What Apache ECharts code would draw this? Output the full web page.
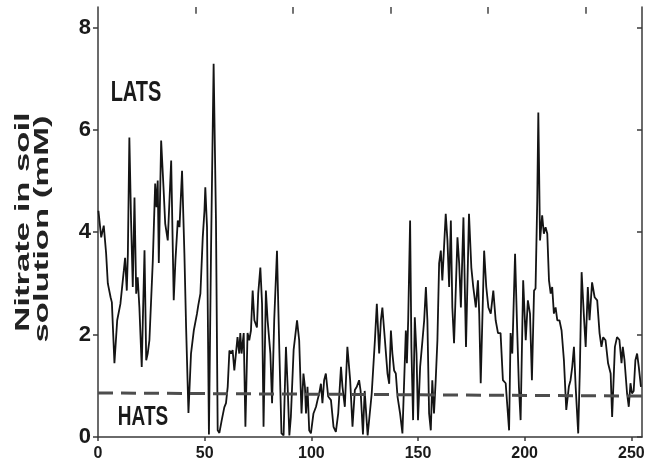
<!DOCTYPE html>
<html>
<head>
<meta charset="utf-8">
<script src="https://cdn.jsdelivr.net/npm/echarts@6/dist/echarts.min.js"></script>
<style>
  html, body { margin: 0; padding: 0; background: #fff; }
  #chart { width: 648px; height: 472px; }
</style>
</head>
<body>
<div id="chart"></div>
<script>
// Day of the season and soil-solution nitrate (mM)
const days = [
  0.2, 1.5, 2.7, 3.8, 4.6, 5.9, 6.5, 7.7, 9.0, 10.5, 12.1, 12.7, 13.5, 14.0, 14.7, 15.5, 16.3, 17.1, 17.9, 18.6,
  19.4, 20.5, 21.8, 22.6, 23.3, 24.1, 25.7, 26.8, 27.4, 28.0, 28.5, 29.6, 30.7, 31.5, 32.7, 34.3, 35.5, 36.3, 37.4, 38.2,
  39.4, 40.5, 41.3, 42.4, 43.6, 44.9, 46.4, 47.0, 48.0, 49.1, 49.9, 50.3, 51.1, 52.0, 53.0, 54.2, 55.3, 56.1, 56.9, 58.0,
  59.2, 60.0, 60.8, 61.6, 62.4, 63.1, 63.9, 64.7, 65.4, 66.2, 66.7, 67.3, 68.3, 69.1, 70.1, 70.9, 71.7, 72.5, 73.3, 74.5,
  75.1, 76.1, 76.9, 77.6, 78.7, 79.5, 80.8, 81.6, 82.6, 83.9, 85.0, 86.0, 87.0, 88.1, 88.9, 89.7, 90.4, 91.7, 93.3, 94.3,
  95.4, 96.3, 97.0, 97.5, 98.2, 99.0, 99.8, 101.0, 102.2, 102.9, 103.7, 104.5, 105.2, 106.0, 106.8, 107.9, 109.2, 110.4, 111.5, 112.6,
  113.9, 114.6, 115.7, 116.9, 118.2, 119.3, 120.4, 121.3, 122.4, 123.1, 124.2, 125.0, 126.4, 127.3, 128.3, 129.8, 130.7, 131.8, 132.6, 133.3,
  134.5, 135.7, 136.5, 137.3, 138.0, 138.8, 139.6, 140.4, 141.6, 142.7, 143.5, 144.3, 144.8, 145.4, 146.3, 146.9, 147.7, 148.5, 149.3, 150.0,
  151.0, 152.1, 152.9, 153.7, 154.4, 155.2, 156.0, 156.7, 157.5, 158.3, 159.1, 159.9, 160.7, 161.4, 162.2, 163.0, 163.8, 164.6, 165.4, 166.1,
  166.9, 168.5, 169.3, 170.1, 171.3, 172.5, 173.9, 175.0, 175.9, 177.1, 178.1, 178.7, 179.4, 181.0, 182.0, 183.0, 184.1, 185.3, 186.4, 187.5,
  188.7, 189.8, 191.1, 191.9, 192.7, 193.4, 194.2, 195.5, 196.5, 197.3, 198.1, 199.3, 200.5, 201.5, 202.5, 203.4, 204.4, 205.1, 205.9, 206.4,
  207.2, 208.2, 209.0, 209.8, 210.6, 211.4, 212.2, 212.9, 213.7, 214.5, 215.3, 216.3, 217.3, 218.4, 219.5, 220.7, 221.5, 222.3, 223.1, 223.9,
  225.1, 225.9, 226.7, 227.8, 228.6, 229.6, 230.4, 231.6, 232.8, 234.0, 235.1, 236.0, 236.8, 237.9, 239.1, 240.3, 241.0, 242.3, 243.3, 244.4,
  245.4, 246.0, 246.8, 248.0, 248.8, 249.6, 250.3, 251.1, 251.9, 252.7, 253.5, 254.5
];
const nitrate = [
  4.42, 3.90, 4.13, 3.59, 3.00, 2.73, 2.63, 1.44, 2.28, 2.60, 3.25, 3.50, 2.86, 3.58, 5.85, 4.23, 2.93, 4.68, 2.80, 3.12,
  2.53, 1.37, 3.65, 1.50, 1.63, 1.89, 3.45, 4.95, 4.49, 5.01, 3.40, 5.79, 4.88, 4.17, 3.84, 5.40, 2.67, 3.45, 4.23, 4.10,
  5.20, 3.58, 2.14, 0.47, 1.63, 2.08, 2.41, 2.57, 2.80, 3.90, 4.42, 4.88, 4.10, 0.05, 3.70, 7.29, 4.23, 0.13, 0.08, 0.33,
  0.58, 0.66, 0.98, 1.69, 1.63, 1.70, 1.30, 1.33, 1.95, 1.63, 2.03, 1.63, 2.03, 0.20, 2.03, 1.89, 2.08, 2.86, 2.28, 2.14,
  2.80, 3.31, 2.60, 0.20, 2.86, 2.28, 1.63, 0.66, 2.28, 3.64, 1.70, 0.07, 0.03, 1.76, 0.98, 0.03, 0.39, 1.70, 2.28, 1.89,
  0.46, 1.24, 0.98, 0.46, 0.98, 0.13, 0.07, 0.46, 0.59, 0.72, 0.85, 1.04, 0.66, 1.11, 1.24, 0.79, 0.72, 0.20, 0.10, 0.46,
  1.37, 0.98, 0.59, 1.76, 1.11, 0.20, 0.92, 0.98, 1.11, 0.90, 0.05, 0.90, 0.03, 0.05, 0.85, 1.89, 2.60, 1.63, 2.28, 2.53,
  1.89, 1.24, 1.04, 2.08, 1.63, 1.30, 1.24, 0.79, 0.46, 0.07, 0.04, 2.08, 1.44, 2.28, 4.23, 1.76, 0.33, 2.34, 1.63, 0.33,
  1.37, 1.89, 2.28, 2.93, 2.28, 0.46, 0.13, 1.11, 0.46, 1.11, 1.89, 3.39, 3.64, 3.06, 3.70, 4.36, 3.84, 2.93, 4.23, 2.53,
  1.83, 3.90, 3.39, 2.53, 4.29, 1.76, 4.36, 3.31, 2.93, 2.53, 3.06, 2.41, 1.05, 3.64, 2.93, 2.53, 2.41, 2.86, 2.28, 2.03,
  2.03, 1.11, 1.05, 0.59, 0.13, 2.03, 1.63, 3.58, 2.08, 0.98, 0.33, 3.06, 1.89, 2.67, 2.41, 1.11, 2.86, 2.90, 4.62, 6.34,
  3.84, 4.33, 3.97, 4.10, 3.97, 3.06, 2.80, 2.93, 2.41, 2.53, 2.28, 2.28, 2.08, 1.50, 0.53, 0.98, 1.11, 1.37, 1.76, 0.98,
  0.07, 1.37, 3.22, 2.34, 1.76, 2.93, 2.28, 3.02, 2.73, 2.67, 2.03, 1.76, 1.95, 1.89, 1.44, 1.24, 0.39, 1.76, 1.95, 1.90,
  1.44, 1.76, 1.50, 0.85, 0.59, 1.05, 0.85, 0.90, 1.50, 1.63, 1.37, 0.98
];

// Boundary between the high- and low-affinity transport ranges
const boundaryDays = [0, 255];
const boundaryLevel = [0.86, 0.80];

// Axis ticks
const xTicks = [0, 50, 100, 150, 200, 250];
const yTicks = [0, 2, 4, 6, 8];
// unlabelled marks along the top edge
const topTickDays = [45.7, 91.5, 137.2, 182.9, 228.7];

const yMax = 8.4;
const nitrateSeries = days.map((d, i) => [d, nitrate[i]]);
const boundarySeries = boundaryDays.map((d, i) => [d, boundaryLevel[i]]);
const topTickMarks = topTickDays.map(d => [{ coord: [d, yMax] }, { coord: [d, yMax - 0.13] }]);

const axisColor = '#3a3a3a';
const labelFont = '"Liberation Sans", Arial, sans-serif';

const chart = echarts.init(document.getElementById('chart'), null, { renderer: 'canvas' });

chart.setOption({
  animation: false,
  backgroundColor: '#ffffff',
  grid: { left: 98, right: 6, top: 7, bottom: 35, outerBoundsMode: 'none' },
  xAxis: {
    type: 'value', min: 0, max: 255, position: 'bottom',
    splitLine: { show: false },
    axisLine: { show: true, lineStyle: { color: axisColor, width: 1.5 } },
    axisTick: { show: true, inside: false, length: 4, customValues: xTicks, lineStyle: { color: axisColor, width: 1.5 } },
    axisLabel: {
      customValues: xTicks, margin: 9,
      color: '#1a1a1a', fontSize: 16, fontWeight: 'bold', fontFamily: labelFont
    }
  },
  yAxis: [
    {
      type: 'value', min: 0, max: yMax, position: 'left',
      splitLine: { show: false },
      axisLine: { show: true, lineStyle: { color: axisColor, width: 1.5 } },
      axisTick: { show: true, inside: false, length: 5, customValues: yTicks, lineStyle: { color: axisColor, width: 1.5 } },
      axisLabel: {
        customValues: yTicks, margin: 7,
        color: '#1a1a1a', fontSize: 22, fontWeight: 'bold', fontFamily: labelFont
      }
    },
    {
      type: 'value', min: 0, max: yMax, position: 'right',
      splitLine: { show: false },
      axisLine: { show: true, lineStyle: { color: axisColor, width: 1.5 } },
      axisTick: { show: true, inside: true, length: 5, customValues: yTicks, lineStyle: { color: axisColor, width: 1.5 } },
      axisLabel: { show: false }
    }
  ],
  series: [
    {
      name: 'Nitrate',
      type: 'line',
      data: nitrateSeries,
      showSymbol: false,
      symbol: 'none',
      lineStyle: { color: '#141414', width: 1.8 },
      z: 2
    },
    {
      name: 'HATS/LATS boundary',
      type: 'line',
      data: boundarySeries,
      showSymbol: false,
      symbol: 'none',
      lineStyle: { color: '#4d4d4d', width: 3, type: [15, 8] },
      z: 3,
      markLine: {
        silent: true,
        symbol: ['none', 'none'],
        label: { show: false },
        lineStyle: { color: '#444', width: 1.5, type: 'solid' },
        data: topTickMarks
      }
    }
  ],
  graphic: [
    {
      type: 'text', x: 136, y: 93, scaleY: 1.45, z: 10,
      style: { text: 'LATS', font: 'bold 20px ' + labelFont, fill: '#1a1a1a',
               textAlign: 'center', textVerticalAlign: 'middle', align: 'center', verticalAlign: 'middle' }
    },
    {
      type: 'text', x: 143, y: 417, scaleY: 1.5, z: 10,
      style: { text: 'HATS', font: 'bold 19px ' + labelFont, fill: '#1a1a1a',
               textAlign: 'center', textVerticalAlign: 'middle', align: 'center', verticalAlign: 'middle' }
    },
    {
      type: 'text', x: 23, y: 222, rotation: Math.PI / 2, scaleX: 1.65, z: 10,
      style: { text: 'Nitrate in soil', font: 'bold 21px ' + labelFont, fill: '#222',
               textAlign: 'center', textVerticalAlign: 'middle', align: 'center', verticalAlign: 'middle' }
    },
    {
      type: 'text', x: 42, y: 229, rotation: Math.PI / 2, scaleX: 1.65, z: 10,
      style: { text: 'solution (mM)', font: 'bold 21px ' + labelFont, fill: '#222',
               textAlign: 'center', textVerticalAlign: 'middle', align: 'center', verticalAlign: 'middle' }
    }
  ]
});
</script>
</body>
</html>
